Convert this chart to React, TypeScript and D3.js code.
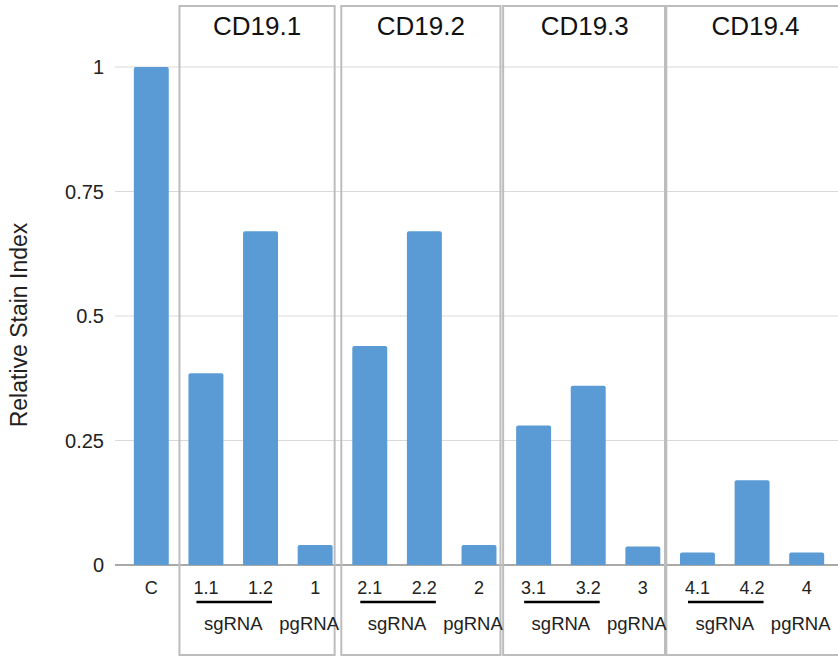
import React from "react";
import * as d3 from "d3";

const categories = ["C", "1.1", "1.2", "1", "2.1", "2.2", "2", "3.1", "3.2", "3", "4.1", "4.2", "4"];
const values = [1.0, 0.385, 0.67, 0.04, 0.44, 0.67, 0.04, 0.28, 0.36, 0.037, 0.025, 0.17, 0.025];
const panelTitles = ["CD19.1", "CD19.2", "CD19.3", "CD19.4"];
const yTicks = [0, 0.25, 0.5, 0.75, 1];
const yTickLabels = ["0", "0.25", "0.5", "0.75", "1"];
const groupLabels = ["sgRNA", "pgRNA"];
const yTitle = "Relative Stain Index";

const W = 838;
const H = 656;
const font = "'Liberation Sans', Arial, sans-serif";

export default function App() {
  const x = d3.scaleBand().domain(categories).range([124, 834]).paddingInner(0.36).paddingOuter(0.18);
  const y = d3.scaleLinear().domain([0, 1]).range([565, 67]);
  const bw = x.bandwidth();

  const panels = panelTitles.map((t, i) => {
    const cats = categories.slice(1 + i * 3, 4 + i * 3);
    const left = x(cats[0])! - 9 - i * 2;
    const right = i === panelTitles.length - 1 ? W + 8 : x(cats[2])! + bw + 2 + i * 2;
    return { title: t, cats, left, right };
  });

  return (
    <div style={{ position: "absolute", left: 0, top: 0 }}>
      <svg width={W} height={H} style={{ display: "block", background: "#fff" }}>
        {/* gridlines */}
        {yTicks.map((t) => (
          <line key={t} x1={115} x2={W} y1={y(t)} y2={y(t)} stroke={t === 0 ? "#8c8c8c" : "#d9d9d9"} strokeWidth={t === 0 ? 1.5 : 1.2} />
        ))}
        {yTicks.map((t, i) => (
          <text key={"yl" + t} x={104} y={y(t) + 7} textAnchor="end" fontFamily={font} fontSize={20} fill="#222">
            {yTickLabels[i]}
          </text>
        ))}
        <text transform={`translate(27,${(y(0) + y(1)) / 2 + 9}) rotate(-90)`} textAnchor="middle" fontFamily={font} fontSize={23} fill="#222">
          {yTitle}
        </text>

        {/* panel boxes */}
        {panels.map((p) => (
          <g key={p.title}>
            <rect x={p.left} y={6} width={p.right - p.left} height={H - 7} fill="none" stroke="#bdbdbd" strokeWidth={2} />
            <text x={(p.left + p.right) / 2} y={35} textAnchor="middle" fontFamily={font} fontSize={26} fill="#111">
              {p.title}
            </text>
          </g>
        ))}

        {/* bars */}
        {categories.map((c, i) => (
          <path
            key={c}
            d={`M${x(c)},${y(0)}V${y(values[i]) + 2}q0,-2 2,-2h${bw - 4}q2,0 2,2V${y(0)}Z`}
            fill="#5b9bd5"
          />
        ))}

        {/* category labels */}
        {categories.map((c) => (
          <text key={"xl" + c} x={x(c)! + bw / 2} y={594} textAnchor="middle" fontFamily={font} fontSize={18} fill="#222">
            {c}
          </text>
        ))}

        {/* group labels */}
        {panels.map((p) => {
          const a = x(p.cats[0])!;
          const b = x(p.cats[1])! + bw;
          const pg = x(p.cats[2])! + bw / 2 - 6;
          return (
            <g key={"g" + p.title}>
              <line x1={a + 8} x2={b - 6} y1={602} y2={602} stroke="#000" strokeWidth={2.5} />
              <text x={(a + b) / 2} y={630} textAnchor="middle" fontFamily={font} fontSize={18.5} fill="#222">
                {groupLabels[0]}
              </text>
              <text x={pg} y={630} textAnchor="middle" fontFamily={font} fontSize={18.5} fill="#222">
                {groupLabels[1]}
              </text>
            </g>
          );
        })}
      </svg>
    </div>
  );
}
